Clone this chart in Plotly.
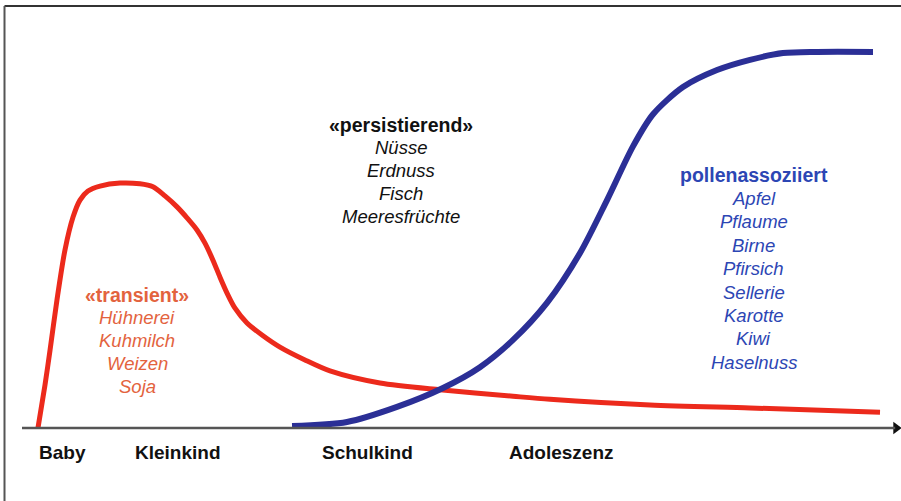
import plotly.graph_objects as go

# Time axis (relative units 0..100) and prevalence level (0..100)
red_x = [1.84, 2.65, 3.23, 4.03, 4.95, 5.88, 6.68, 7.60, 8.99, 11.29, 13.59, 15.09, 16.47,
         17.86, 19.01, 20.16, 21.08, 22.00, 22.81, 23.62, 24.54, 25.92, 27.65, 29.72, 32.60,
         35.48, 41.24, 48.16, 56.57, 60.83, 72.35, 83.87, 98.85]
red_y = [0, 11.4, 20.6, 33.9, 47.1, 55.8, 60.3, 62.7, 64.0, 64.8, 64.6, 63.8, 61.4,
         58.5, 55.6, 52.4, 48.9, 44.4, 39.9, 35.7, 31.7, 27.8, 24.6, 21.4, 18.0,
         15.1, 11.9, 10.1, 8.4, 7.6, 6.1, 5.3, 4.2]

blue_x = [31.11, 37.44, 43.20, 48.50, 52.76, 56.57, 60.48, 64.29, 67.40, 70.39, 72.70,
          76.15, 80.07, 83.87, 87.67, 91.59, 98.04]
blue_y = [0.5, 1.6, 5.6, 10.6, 16.1, 23.3, 33.1, 46.3, 60.3, 74.5, 83.0,
          90.2, 94.7, 97.4, 99.2, 99.5, 99.5]

stage_labels = ["Baby", "Kleinkind", "Schulkind", "Adoleszenz"]
stage_x = [4.61, 17.97, 39.75, 62.10]

transient_title = "«transient»"
transient_items = ["Hühnerei", "Kuhmilch", "Weizen", "Soja"]
persist_title = "«persistierend»"
persist_items = ["Nüsse", "Erdnuss", "Fisch", "Meeresfrüchte"]
pollen_title = "pollenassoziiert"
pollen_items = ["Apfel", "Pflaume", "Birne", "Pfirsich", "Sellerie", "Karotte", "Kiwi", "Haselnuss"]

RED = "#ec2a1c"
BLUE = "#2b2f96"
RED_TXT = "#e3633e"
BLUE_TXT = "#2c46b4"
FONT = "Liberation Sans, Arial, sans-serif"

fig = go.Figure()
fig.add_trace(go.Scatter(x=red_x, y=red_y, mode="lines",
                         line=dict(color=RED, width=5, shape="spline", smoothing=0.8),
                         hoverinfo="skip", showlegend=False))
fig.add_trace(go.Scatter(x=blue_x, y=blue_y, mode="lines",
                         line=dict(color=BLUE, width=6, shape="spline", smoothing=0.8),
                         hoverinfo="skip", showlegend=False))

# x-axis line with arrow
fig.add_shape(type="line", x0=0, x1=100.6, y0=0, y1=0, xref="x", yref="y",
              line=dict(color="#555555", width=2.5))
fig.add_trace(go.Scatter(x=[100.7], y=[0], mode="markers",
                         marker=dict(symbol="triangle-right", size=11, color="#111111"),
                         hoverinfo="skip", showlegend=False))

# frame
fig.add_shape(type="line", xref="paper", yref="paper", x0=0.005, x1=1.0, y0=0.988, y1=0.988,
              line=dict(color="#333333", width=2))
fig.add_shape(type="line", xref="paper", yref="paper", x0=0.005, x1=0.005, y0=0.0, y1=0.988,
              line=dict(color="#555555", width=2))

for lab, xv in zip(stage_labels, stage_x):
    fig.add_annotation(x=xv, y=-6.6, text=f"<b>{lab}</b>", showarrow=False,
                       font=dict(family=FONT, size=19, color="#111111"),
                       xanchor="center", yanchor="middle")

def block(title, items, x, y_top, step, color):
    fig.add_annotation(x=x, y=y_top, text=f"<b>{title}</b>", showarrow=False,
                       font=dict(family=FONT, size=19.5, color=color),
                       xanchor="center", yanchor="middle")
    for i, it in enumerate(items, start=1):
        fig.add_annotation(x=x, y=y_top - i * step, text=f"<i>{it}</i>", showarrow=False,
                           font=dict(family=FONT, size=18.5, color=color),
                           xanchor="center", yanchor="middle")

block(transient_title, transient_items, 13.25, 35.2, 6.085, RED_TXT)
block(persist_title, persist_items, 43.72, 80.2, 6.085, "#111111")
block(pollen_title, pollen_items, 84.33, 66.9, 6.19, BLUE_TXT)

fig.update_layout(
    width=901, height=501,
    margin=dict(l=0, r=0, t=0, b=0),
    paper_bgcolor="white", plot_bgcolor="white",
    xaxis=dict(range=[-2.535, 101.267], visible=False, fixedrange=True),
    yaxis=dict(range=[-19.31, 113.23], visible=False, fixedrange=True),
    showlegend=False,
)

fig.write_html("out.html", config={"displayModeBar": False},
               post_script="document.body.style.margin='0px';document.body.style.overflow='hidden';")
